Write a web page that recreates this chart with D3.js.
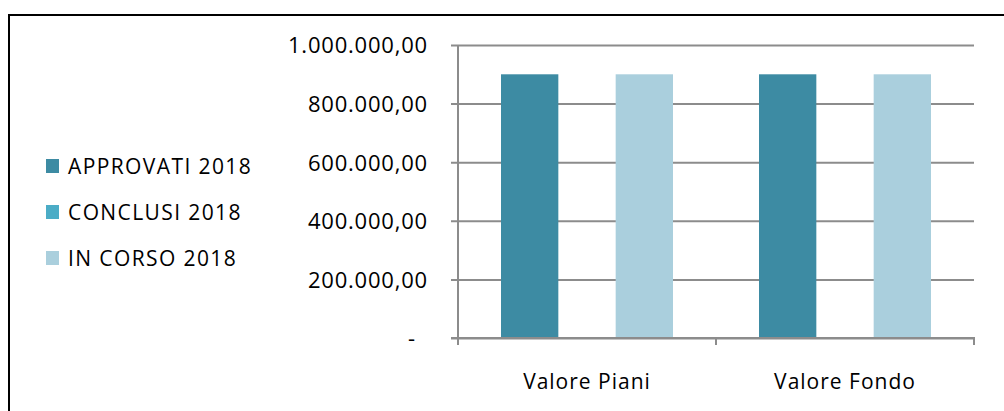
<!DOCTYPE html>
<html>
<head>
<meta charset="utf-8">
<script src="https://cdn.jsdelivr.net/npm/d3@7"></script>
<style>
  body { margin: 0; background: #fff; }
  svg { display: block; font-family: "Open Sans", "Noto Sans", sans-serif; }
</style>
</head>
<body>
<div id="chart"></div>
<script>
// data
var categories = ["Valore Piani", "Valore Fondo"];
var seriesNames = ["APPROVATI 2018", "CONCLUSI 2018", "IN CORSO 2018"];
var seriesColors = ["#3d8ba3", "#4bacc6", "#aacfdd"];
var approvati = [900000, 900000];
var conclusi = [0, 0];
var inCorso = [900000, 900000];
var yTicks = [0, 200000, 400000, 600000, 800000, 1000000];

var W = 1004, H = 411;
var plot = { left: 458, right: 974, top: 45, bottom: 338 };
var fontFam = "'Open Sans', 'Noto Sans', sans-serif";

var svg = d3.select("#chart")
  .append("svg")
  .attr("width", W)
  .attr("height", H);

// outer frame (runs off the right and bottom edges)
svg.append("rect")
  .attr("x", 9)
  .attr("y", 15)
  .attr("width", W + 20)
  .attr("height", H + 20)
  .attr("fill", "none")
  .attr("stroke", "#000")
  .attr("stroke-width", 2);

var x = d3.scaleBand()
  .domain(categories)
  .range([plot.left, plot.right]);

var inner = d3.scaleBand()
  .domain(seriesNames)
  .range([0, x.bandwidth()])
  .paddingInner(0)
  .paddingOuter(0.75);

var y = d3.scaleLinear()
  .domain([0, 1000000])
  .range([plot.bottom, plot.top]);

var fmt = function (v) {
  if (v === 0) return "-";
  var s = d3.format(",.2f")(v);
  return s.replace(/,/g, "#").replace(".", ",").replace(/#/g, ".");
};

// gridlines + y axis
var yAxis = svg.append("g")
  .attr("transform", "translate(" + plot.left + ",0)")
  .call(d3.axisLeft(y).tickValues(yTicks).tickFormat(fmt)
    .tickSize(-(plot.right - plot.left)).tickPadding(24));
yAxis.select(".domain").remove();
yAxis.selectAll(".tick line")
  .attr("x1", -7)
  .attr("stroke", "#8c8c8c")
  .attr("stroke-width", 2);
yAxis.selectAll(".tick text")
  .attr("x", function (d) { return d === 0 ? -42 : -30; })
  .attr("dy", "0.36em")
  .style("font-size", "22px")
  .style("letter-spacing", "0.8px")
  .style("font-family", fontFam)
  .attr("fill", "#000");

svg.append("line")
  .attr("x1", plot.left).attr("x2", plot.left)
  .attr("y1", plot.top).attr("y2", plot.bottom + 7)
  .attr("stroke", "#8c8c8c")
  .attr("stroke-width", 2);

// bars
var rows = seriesNames.map(function (name, i) {
  var vals = [approvati, conclusi, inCorso][i];
  return categories.map(function (c, j) {
    return { series: name, cat: c, value: vals[j], color: seriesColors[i] };
  });
});

svg.append("g")
  .selectAll("g")
  .data(rows)
  .enter()
  .append("g")
  .selectAll("rect")
  .data(function (d) { return d; })
  .enter()
  .append("rect")
  .attr("x", function (d) { return x(d.cat) + inner(d.series); })
  .attr("width", inner.bandwidth())
  .attr("y", function (d) { return y(d.value); })
  .attr("height", function (d) { return y(0) - y(d.value); })
  .attr("fill", function (d) { return d.color; });

// x axis
var xAxis = svg.append("g")
  .attr("transform", "translate(0," + plot.bottom + ")")
  .call(d3.axisBottom(x).tickSize(0).tickPadding(36));
xAxis.select(".domain").remove();
xAxis.selectAll("text")
  .style("font-size", "21px")
  .style("letter-spacing", "1px")
  .style("font-family", fontFam)
  .attr("fill", "#000");

svg.append("line")
  .attr("x1", plot.left - 7).attr("x2", plot.right + 1)
  .attr("y1", plot.bottom).attr("y2", plot.bottom)
  .attr("stroke", "#8c8c8c")
  .attr("stroke-width", 2);

svg.append("g")
  .selectAll("line")
  .data([plot.left, x(categories[1]), plot.right])
  .enter()
  .append("line")
  .attr("x1", function (d) { return d; })
  .attr("x2", function (d) { return d; })
  .attr("y1", plot.bottom)
  .attr("y2", plot.bottom + 7)
  .attr("stroke", "#8c8c8c")
  .attr("stroke-width", 2);

// legend
var legend = svg.append("g")
  .selectAll("g")
  .data(seriesNames)
  .enter()
  .append("g")
  .attr("transform", function (d, i) { return "translate(46," + (166 + i * 46) + ")"; });

legend.append("rect")
  .attr("x", 0)
  .attr("y", -7)
  .attr("width", 13)
  .attr("height", 14)
  .attr("fill", function (d, i) { return seriesColors[i]; });

legend.append("text")
  .attr("x", 22)
  .attr("dy", "0.36em")
  .style("font-size", "21px")
  .style("letter-spacing", "1.4px")
  .style("font-family", fontFam)
  .text(function (d) { return d; });
</script>
</body>
</html>
